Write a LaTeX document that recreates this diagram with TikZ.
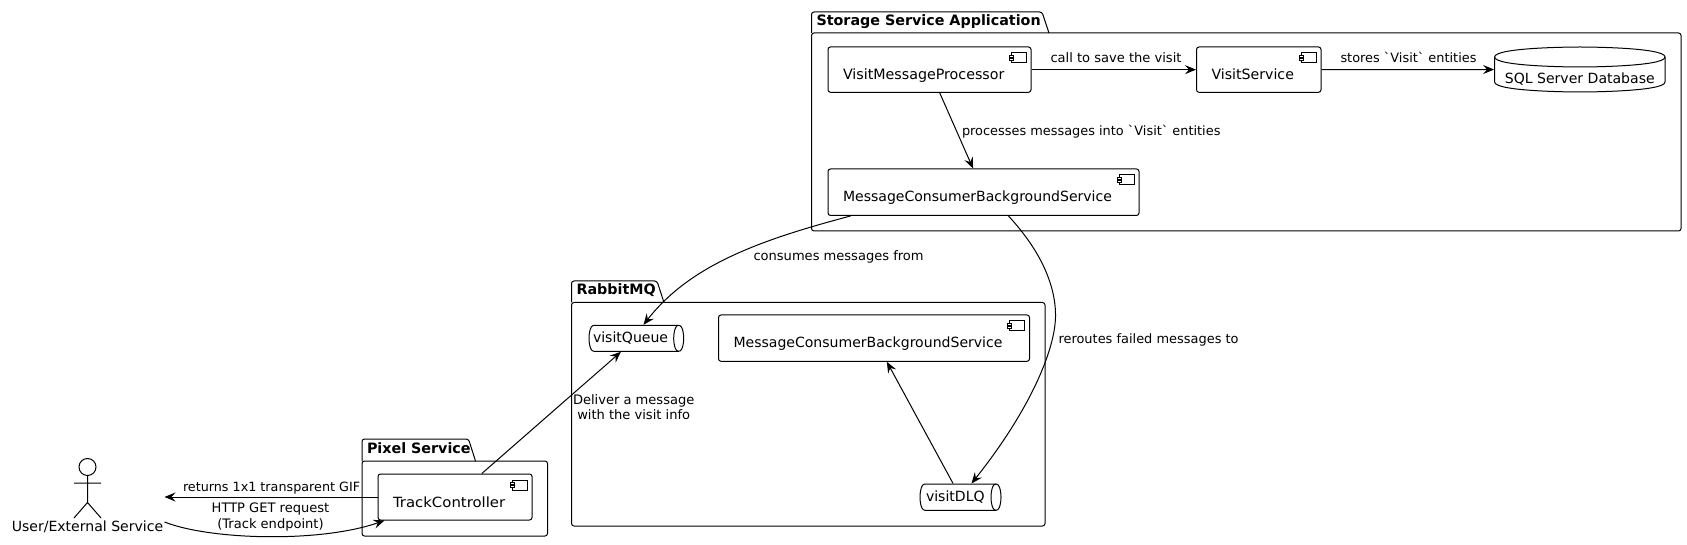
\documentclass[tikz,border=0pt]{standalone}
\usepackage{fontspec}
\setmainfont{DejaVu Sans}
\usetikzlibrary{arrows.meta,calc}
\newcommand{\bodyfont}{\fontsize{14.05}{16}\selectfont}
\newcommand{\titlefont}{\fontsize{14.3}{16}\selectfont\bfseries}
\newcommand{\edgefont}{\fontsize{13.05}{15.2}\selectfont}
\newcommand{\innertext}[4]{\makebox[#1pt][l]{\hspace{#2pt}\smash{\raisebox{-#3pt}{#4}}}}
\newcommand{\pkgbox}[8]{%
  \node[pkgbody,minimum width={#3-#1},minimum height={#4-#5}] (#7) at ({(#1+#3)/2},{(#5+#4)/2}) {};
  \draw[pkgline,rounded corners=2.5pt] (#1,#5) -- (#1,#2) -- ({#6-7},#2) -- (#6,#5);
  \node[pkgtitle] (#7title) at ({#1+4.5},{#2+14}) {#8};}
\newcommand{\compbox}[7]{%
  \node[comp,minimum width={#4-#2},minimum height={#5-#3}] (#1) at ({(#2+#4)/2},{(#3+#5)/2}) {\pgfmathparse{#4-#2}\innertext{\pgfmathresult}{15}{#6}{#7}};
  \draw[pkgline,fill=white] ({#4-20},{#3+6}) rectangle ({#4-5},{#3+16});
  \draw[pkgline,fill=white] ({#4-22},{#3+8.5}) rectangle ({#4-18},{#3+10.5});
  \draw[pkgline,fill=white] ({#4-22},{#3+11.5}) rectangle ({#4-18},{#3+13.5});}
\newcommand{\queuebox}[7]{%
  \draw[pkgline] ({#2+5},#3) -- ({#4-5},#3) .. controls (#4,#3) and (#4,{(#3+#5)/2}) .. (#4,{(#3+#5)/2})
     .. controls (#4,{(#3+#5)/2}) and (#4,#5) .. ({#4-5},#5) -- ({#2+5},#5)
     .. controls (#2,#5) and (#2,{(#3+#5)/2}) .. (#2,{(#3+#5)/2})
     .. controls (#2,{(#3+#5)/2}) and (#2,#3) .. ({#2+5},#3) -- cycle;
  \draw[pkgline] ({#4-5},#3) .. controls ({#4-10},#3) and ({#4-10},{(#3+#5)/2}) .. ({#4-10},{(#3+#5)/2})
     .. controls ({#4-10},{(#3+#5)/2}) and ({#4-10},#5) .. ({#4-5},#5);
  \node[plain,minimum width={#4-#2},minimum height={#5-#3}] (#1) at ({(#2+#4)/2},{(#3+#5)/2}) {\pgfmathparse{#4-#2}\innertext{\pgfmathresult}{#6}{4.5}{#7}};}
\begin{document}
\begin{tikzpicture}[x=1pt,y=-1pt,line width=1pt,font=\bodyfont,
  pkgline/.style={draw=black,line width=1pt},
  pkgbody/.style={draw=black,line width=1pt,rounded corners=2.5pt,inner sep=0pt,fill=none},
  pkgtitle/.style={anchor=base west,inner sep=0pt,font=\titlefont},
  comp/.style={draw=black,line width=1pt,rounded corners=2.5pt,inner sep=0pt,font=\bodyfont},
  plain/.style={inner sep=0pt,font=\bodyfont},
  edge/.style={draw=black,line width=1pt,-{Stealth[length=11pt,width=9pt,inset=4pt]}},
  lab/.style={anchor=base west,inner sep=0pt,font=\edgefont},
  lab2/.style={anchor=center,align=center,inner sep=0pt,font=\edgefont}]
\useasboundingbox (0,0) rectangle (1687,545);
\fill[white] (0,0) rectangle (1687,545);

\pkgbox{811.5}{12}{1681}{231}{33}{1049}{store}{Storage Service Application}
\pkgbox{571.5}{281}{1045}{526}{302.5}{664}{rabbit}{RabbitMQ}
\pkgbox{362}{439}{547.5}{536}{461}{475.5}{pixel}{Pixel Service}

\compbox{vmp}{828}{47}{1031}{92.3}{9.5}{\fontsize{14.25}{16}\selectfont VisitMessageProcessor}
\compbox{vs}{1196.5}{47}{1321}{92.3}{9.5}{\fontsize{14.15}{16}\selectfont VisitService}
\compbox{mcbs}{828}{169}{1139}{215.5}{9.5}{MessageConsumerBackgroundService}
\compbox{mcbsb}{718.5}{315}{1029.5}{361.3}{9.5}{MessageConsumerBackgroundService}
\compbox{tc}{378}{474}{532}{520}{10.5}{\scalebox{1.06}[1]{TrackController}}

% database
\draw[pkgline] (1494.6,57) .. controls (1494.6,47) and (1580,47) .. (1580,47)
   .. controls (1580,47) and (1665,47) .. (1665,57) -- (1665,82)
   .. controls (1665,92) and (1580,92) .. (1580,92)
   .. controls (1580,92) and (1494.6,92) .. (1494.6,82) -- cycle;
\draw[pkgline] (1494.6,57) .. controls (1494.6,67) and (1580,67) .. (1580,67)
   .. controls (1580,67) and (1665,67) .. (1665,57);
\node[plain,minimum width=170.4pt,minimum height=45pt] (db) at (1579.8,69.5) {\smash{\raisebox{-14pt}{SQL Server Database}}};

\queuebox{vq}{589}{325.3}{683.7}{351.3}{4}{visitQueue}
\queuebox{dlq}{920}{484}{1001}{510.3}{6}{visitDLQ}

% actor
\draw[pkgline] (87.5,467) circle (8.5);
\draw[pkgline] (87.5,475.5) -- (87.5,502.5) (74,483) -- (101,483) (74,518) -- (87.5,502.5) -- (101,518);
\node[plain,minimum width=153pt,minimum height=78pt] (actor) at (87.5,497) {\smash{\raisebox{-34.5pt}{User/External Service}}};

% connectors
\draw[edge] (vmp) -- (vs);
\draw[edge] (vs) -- (db);
\draw[edge] (vmp) -- (mcbs);
\draw[edge] ($(mcbs.south west)+(23,0)$) .. controls (760,240) and (690,265) .. ($(vq.north west)+(55,0)$);
\draw[edge] ($(mcbs.south west)+(181,0)$) .. controls (1040,250) and (1056,285) .. (1055.5,316.7) .. controls (1055,350) and (1030,410) .. ($(dlq.north west)+(52,0)$);
\draw[edge] (dlq) -- (mcbsb);
\draw[edge] (tc) -- (vq);
\draw[edge] (tc) -- (actor);
\draw[edge] ($(actor.east)+(0,25)$) .. controls (210,540) and (320,543) .. ($(tc.south west)+(7,0)$);

% labels
\node[lab] (l1) at (1050,63) {call to save the visit};
\node[lab,font=\fontsize{12.9}{15}\selectfont] (l2) at (1340,63) {stores \textasciigrave Visit\textasciigrave{} entities};
\node[lab,font=\fontsize{12.9}{15}\selectfont] (l3) at (961.5,136) {processes messages into \textasciigrave Visit\textasciigrave{} entities};
\node[lab] (l4) at (753,261) {consumes messages from};
\node[lab,font=\fontsize{12.95}{15}\selectfont] (l5) at (1058,343.5) {reroutes failed messages to};
\node[lab,font=\fontsize{12.75}{15}\selectfont] (l6) at (182.5,491) {returns 1x1 transparent GIF};
\node[lab2] (l7) at (270.5,517) {HTTP GET request\\(Track endpoint)};
\node[lab2] (l8) at (633.7,407.5) {Deliver a message\\with the visit info};
\end{tikzpicture}
\end{document}
